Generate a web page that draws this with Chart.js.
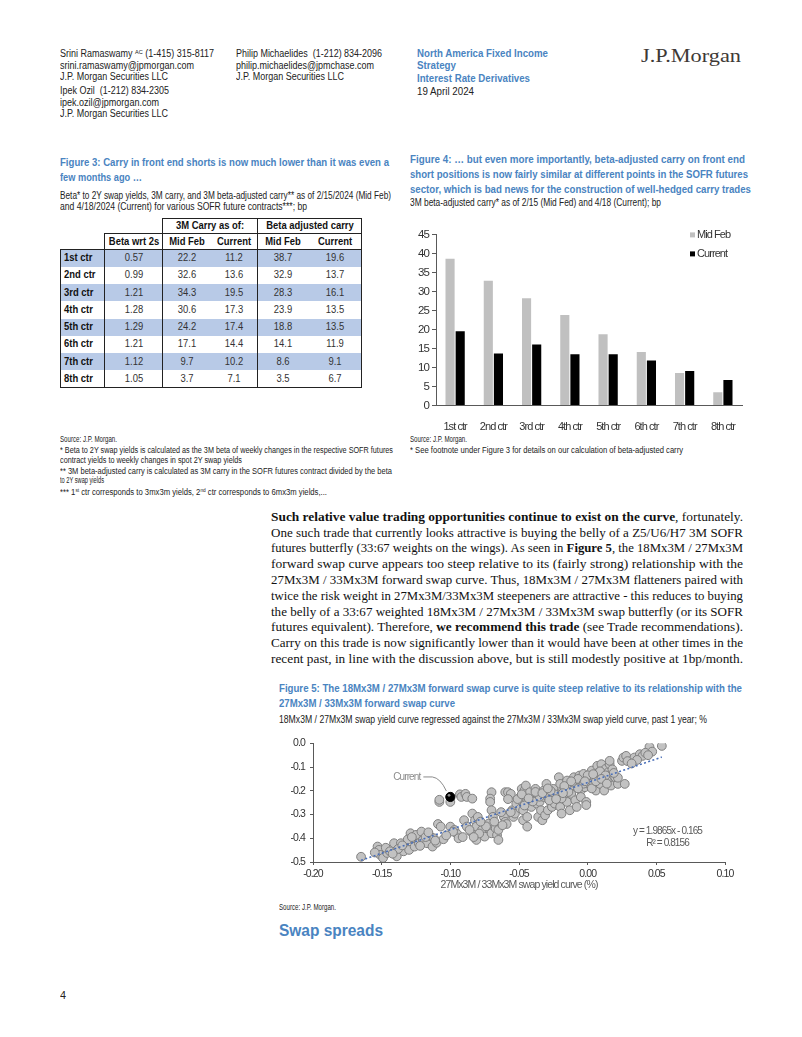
<!DOCTYPE html>
<html>
<head>
<meta charset="utf-8">
<title>Interest Rate Derivatives - page 4</title>
<script src="https://cdn.jsdelivr.net/npm/chart.js@4.4.1/dist/chart.umd.min.js"></script>
<style>
  html, body { margin: 0; padding: 0; background: #fff; }
  #page { position: relative; width: 802px; height: 1037px; overflow: hidden;
          font-family: "Liberation Sans", Arial, sans-serif; color: #222; }
  .t { position: absolute; white-space: nowrap; transform-origin: 0 50%; }
  .t sup { font-size: 0.62em; position: relative; top: -0.45em; vertical-align: baseline; line-height: 0; }
  .blue { color: #4a84c1; font-weight: bold; }
  .serif { font-family: "Liberation Serif", "Times New Roman", serif; color: #111; }
  .logo { color: #3e3935; }
  .box { position: absolute; }
  .box canvas { display: block; }
  #tbl { position: absolute; left: 60px; top: 218px; border-collapse: collapse; table-layout: fixed; }
  #tbl td, #tbl th { position: relative; padding: 0; white-space: nowrap; }
  #tbl th { font-weight: bold; color: #111; }
  #tbl td { color: #333; }
  #tbl td.lbl { font-weight: bold; color: #111; }
  #tbl .c { position: absolute; left: 50%; top: 50%; line-height: 1; white-space: nowrap;
            transform: translate(-50%, -50%) scaleX(var(--sx, 1)); }
  #tbl .lbl .c { left: 3px; transform-origin: 0 50%; transform: translate(0, -50%) scaleX(var(--sx, 1)); }
</style>
</head>
<body>
<div id="page">
  <table id="tbl"></table>
  <div class="box" style="left:405px;top:225px;"><canvas id="fig4" width="345" height="205"></canvas></div>
  <div class="box" style="left:280px;top:732px;"><canvas id="fig5" width="470" height="162"></canvas></div>
</div>
<script>
// ========================================
// DATA
// ========================================
const contracts = ['1st ctr', '2nd ctr', '3rd ctr', '4th ctr', '5th ctr', '6th ctr', '7th ctr', '8th ctr'];
const betaWrt2s = [0.57, 0.99, 1.21, 1.28, 1.29, 1.21, 1.12, 1.05];
const carryMidFeb = [22.2, 32.6, 34.3, 30.6, 24.2, 17.1, 9.7, 3.7];
const carryCurrent = [11.2, 13.6, 19.5, 17.3, 17.4, 14.4, 10.2, 7.1];
const betaAdjMidFeb = [38.7, 32.9, 28.3, 23.9, 18.8, 14.1, 8.6, 3.5];
const betaAdjCurrent = [19.6, 13.7, 16.1, 13.5, 13.5, 11.9, 9.1, 6.7];
const fig4YTicks = [0, 5, 10, 15, 20, 25, 30, 35, 40, 45];

// Figure 5: 27Mx3M/33Mx3M curve (x) vs 18Mx3M/27Mx3M curve (y), %
const curveX = [
  -0.165, -0.153, -0.152, -0.151, -0.149, -0.146, -0.147, -0.139, -0.141, -0.136,
  -0.133, -0.134, -0.130, -0.129, -0.127, -0.126, -0.125, -0.123, -0.121, -0.120,
  -0.117, -0.115, -0.113, -0.112, -0.110, -0.109, -0.107, -0.105, -0.108, -0.108,
  -0.100, -0.100, -0.097, -0.095, -0.093, -0.092, -0.089, -0.088, -0.084, -0.094,
  -0.090, -0.088, -0.085, -0.084, -0.082, -0.081, -0.081, -0.080, -0.077, -0.075,
  -0.072, -0.071, -0.070, -0.070, -0.071, -0.071, -0.070, -0.069, -0.067, -0.066,
  -0.065, -0.065, -0.061, -0.060, -0.059, -0.060, -0.058, -0.056, -0.055, -0.054,
  -0.053, -0.052, -0.049, -0.049, -0.048, -0.047, -0.047, -0.046, -0.045, -0.044,
  -0.044, -0.044, -0.043, -0.042, -0.042, -0.041, -0.039, -0.038, -0.037, -0.037,
  -0.036, -0.035, -0.034, -0.033, -0.032, -0.032, -0.031, -0.030, -0.029, -0.029,
  -0.027, -0.026, -0.025, -0.024, -0.022, -0.021, -0.020, -0.020, -0.019, -0.018,
  -0.016, -0.015, -0.015, -0.013, -0.013, -0.012, -0.010, -0.009, -0.008, -0.008,
  -0.006, -0.005, -0.005, -0.004, -0.003, -0.002, -0.001, -0.001, 0.001, 0.002,
  0.003, 0.004, 0.005, 0.006, 0.007, 0.008, 0.009, 0.010, 0.011, 0.012,
  0.013, 0.014, 0.015, 0.016, 0.016, 0.017, 0.020, 0.022, 0.025, 0.026,
  0.027, 0.028, 0.034, 0.038, 0.040, 0.045, 0.047, 0.054, -0.011, -0.007,
  -0.003, 0.000, 0.003, -0.014, -0.019, -0.024, -0.028, -0.035, -0.040, -0.046,
  -0.051, -0.056, -0.062, -0.068, -0.074, -0.079, -0.086, -0.091, -0.098, -0.103,
  -0.118, -0.122, -0.131, -0.138, -0.144, -0.155, 0.009, 0.013, 0.018, 0.006,
  -0.017, -0.027, 0.029, 0.036, 0.042, 0.022, -0.048, -0.043, -0.038, -0.033,
  -0.029, -0.023, -0.018, -0.012, -0.007, -0.002, 0.004, 0.010, 0.014, 0.019,
  -0.058, -0.063, -0.078, -0.083, -0.111, -0.116, -0.128, -0.135, -0.142, 0.032,
  0.044
];
const curveY = [
  -0.478, -0.435, -0.449, -0.470, -0.483, -0.462, -0.440, -0.476, -0.421, -0.421,
  -0.435, -0.455, -0.449, -0.379, -0.407, -0.435, -0.386, -0.421, -0.372, -0.407,
  -0.421, -0.390, -0.435, -0.400, -0.419, -0.340, -0.351, -0.404, -0.247, -0.238,
  -0.247, -0.351, -0.365, -0.382, -0.215, -0.226, -0.213, -0.226, -0.233, -0.400,
  -0.324, -0.351, -0.372, -0.296, -0.324, -0.351, -0.407, -0.310, -0.365, -0.393,
  -0.338, -0.365, -0.379, -0.206, -0.233, -0.247, -0.282, -0.310, -0.358, -0.386,
  -0.365, -0.407, -0.310, -0.331, -0.340, -0.206, -0.206, -0.213, -0.282, -0.310,
  -0.296, -0.254, -0.226, -0.275, -0.192, -0.282, -0.324, -0.199, -0.178, -0.240,
  -0.351, -0.310, -0.220, -0.261, -0.206, -0.268, -0.233, -0.192, -0.254, -0.213,
  -0.310, -0.247, -0.282, -0.324, -0.226, -0.199, -0.303, -0.171, -0.282, -0.226,
  -0.247, -0.268, -0.192, -0.254, -0.220, -0.143, -0.171, -0.268, -0.296, -0.199,
  -0.226, -0.157, -0.247, -0.185, -0.282, -0.213, -0.143, -0.240, -0.171, -0.268,
  -0.136, -0.199, -0.226, -0.157, -0.129, -0.185, -0.247, -0.260, -0.150, -0.178,
  -0.115, -0.164, -0.143, -0.199, -0.095, -0.122, -0.171, -0.088, -0.143, -0.199,
  -0.108, -0.157, -0.122, -0.088, -0.074, -0.178, -0.143, -0.171, -0.074, -0.060,
  -0.171, -0.053, -0.060, -0.046, -0.053, -0.015, -0.035, -0.011, -0.165, -0.150,
  -0.170, -0.135, -0.190, -0.205, -0.232, -0.215, -0.240, -0.225, -0.245, -0.262,
  -0.235, -0.290, -0.345, -0.330, -0.350, -0.380, -0.365, -0.395, -0.372, -0.388,
  -0.395, -0.432, -0.405, -0.445, -0.455, -0.460, -0.118, -0.135, -0.110, -0.160,
  -0.180, -0.200, -0.075, -0.070, -0.040, -0.145, -0.215, -0.232, -0.205, -0.210,
  -0.190, -0.235, -0.210, -0.160, -0.190, -0.160, -0.130, -0.150, -0.170, -0.125,
  -0.235, -0.290, -0.330, -0.395, -0.410, -0.375, -0.395, -0.430, -0.465, -0.085,
  -0.050
];
const currentX = [-0.100];
const currentY = [-0.226];
const trendX = [-0.165, 0.054];
const trendY = [-0.493, -0.058];
const trendLabel = 'y = 1.9865x - 0.165';
const r2Label = 'R\u00b2 = 0.8156';
const fig5XTicks = [-0.20, -0.15, -0.10, -0.05, 0.00, 0.05, 0.10];
const fig5YTicks = [-0.5, -0.4, -0.3, -0.2, -0.1, 0.0];

// ========================================
// FONTS
// ========================================
function hasFont(name) {
  const c = document.createElement('canvas').getContext('2d');
  c.font = '40px monospace';
  const a = c.measureText('abcdefghijMWil').width;
  c.font = '40px "' + name + '", monospace';
  return c.measureText('abcdefghijMWil').width !== a;
}
const SANS = '"Liberation Sans", Arial, sans-serif';
const NARROW = hasFont('Liberation Sans Narrow');
const FIG = NARROW ? '"Liberation Sans Narrow", ' + SANS : SANS;
const SX = NARROW ? 1 : 0.82;            // horizontal squeeze when no narrow face
const spacing = s => NARROW ? '0px' : (-0.085 * s).toFixed(2) + 'px';

// ========================================
// PAGE TEXT  [x, centre y, width, size, class, html, mode]
// ========================================
const P0 = 516.7, PL = 15.8;
const texts = [
  [60, 54, 154, 10, '', 'Srini Ramaswamy <sup>AC</sup> (1-415) 315-8117'],
  [60, 65.7, 134, 10, '', 'srini.ramaswamy@jpmorgan.com'],
  [60, 76.7, 108, 10, '', 'J.P. Morgan Securities LLC'],
  [60, 91, 109, 10, '', 'Ipek Ozil&nbsp; (1-212) 834-2305'],
  [60, 102.7, 99, 10, '', 'ipek.ozil@jpmorgan.com'],
  [60, 114, 108, 10, '', 'J.P. Morgan Securities LLC'],
  [235.7, 54, 146, 10, '', 'Philip Michaelides&nbsp; (1-212) 834-2096'],
  [235.7, 65.7, 138, 10, '', 'philip.michaelides@jpmchase.com'],
  [235.7, 76.7, 108, 10, '', 'J.P. Morgan Securities LLC'],
  [416.7, 54, 131, 10, 'blue', 'North America Fixed Income'],
  [416.7, 65.5, 39, 10, 'blue', 'Strategy'],
  [416.7, 79.4, 113, 10, 'blue', 'Interest Rate Derivatives'],
  [416.7, 91.5, 57, 10, '', '19 April 2024'],
  [641, 55, 100, 19.5, 'serif logo', 'J.P.Morgan'],

  [60, 161.7, 329, 11.5, 'blue fig', 'Figure 3: Carry in front end shorts is now much lower than it was even a'],
  [60, 176.7, 82, 11.5, 'blue fig', 'few months ago …'],
  [60, 195, 331, 10.5, 'fig', 'Beta* to 2Y swap yields, 3M carry, and 3M beta-adjusted carry** as of 2/15/2024 (Mid Feb)'],
  [60, 206, 247, 10.5, 'fig', 'and 4/18/2024 (Current) for various SOFR future contracts***; bp'],

  [410, 159.3, 335, 11.5, 'blue fig', 'Figure 4: … but even more importantly, beta-adjusted carry on front end'],
  [410, 174.3, 338, 11.5, 'blue fig', 'short positions is now fairly similar at different points in the SOFR futures'],
  [410, 189, 341, 11.5, 'blue fig', 'sector, which is bad news for the construction of well-hedged carry trades'],
  [410, 202.3, 251, 10.5, 'fig', '3M beta-adjusted carry* as of 2/15 (Mid Fed) and 4/18 (Current); bp'],

  [60, 439, 57, 8.5, 'fig', 'Source: J.P. Morgan.'],
  [60, 450, 333, 8.5, 'fig', '* Beta to 2Y swap yields is calculated as the 3M beta of weekly changes in the respective SOFR futures'],
  [60, 459.7, 182, 8.5, 'fig', 'contract yields to weekly changes in spot 2Y swap yields'],
  [60, 471, 332, 8.5, 'fig', '** 3M beta-adjusted carry is calculated as 3M carry in the SOFR futures contract divided by the beta'],
  [60, 480.3, 44, 8.5, 'fig', 'to 2Y swap yields'],
  [60, 491.7, 267, 8.5, 'fig', '*** 1<sup>st</sup> ctr corresponds to 3mx3m yields, 2<sup>nd</sup> ctr corresponds to 6mx3m yields,...'],
  [410, 439, 57, 8.5, 'fig', 'Source: J.P. Morgan.'],
  [410, 450, 273, 8.5, 'fig', '* See footnote under Figure 3 for details on our calculation of beta-adjusted carry'],

  [271, P0, 472, 13.5, 'serif', '<b>Such relative value trading opportunities continue to exist on the curve</b>, fortunately.', 'just'],
  [271, P0 + PL, 472, 13.5, 'serif', 'One such trade that currently looks attractive is buying the belly of a Z5/U6/H7 3M SOFR', 'just'],
  [271, P0 + PL * 2, 472, 13.5, 'serif', 'futures butterfly (33:67 weights on the wings). As seen in <b>Figure 5</b>, the 18Mx3M / 27Mx3M', 'just'],
  [271, P0 + PL * 3, 472, 13.5, 'serif', 'forward swap curve appears too steep relative to its (fairly strong) relationship with the', 'just'],
  [271, P0 + PL * 4, 472, 13.5, 'serif', '27Mx3M / 33Mx3M forward swap curve. Thus, 18Mx3M / 27Mx3M flatteners paired with', 'just'],
  [271, P0 + PL * 5, 472, 13.5, 'serif', 'twice the risk weight in 27Mx3M/33Mx3M steepeners are attractive - this reduces to buying', 'just'],
  [271, P0 + PL * 6, 472, 13.5, 'serif', 'the belly of a 33:67 weighted 18Mx3M / 27Mx3M / 33Mx3M swap butterfly (or its SOFR', 'just'],
  [271, P0 + PL * 7, 472, 13.5, 'serif', 'futures equivalent). Therefore, <b>we recommend this trade</b> (see Trade recommendations).', 'just'],
  [271, P0 + PL * 8, 472, 13.5, 'serif', 'Carry on this trade is now significantly lower than it would have been at other times in the', 'just'],
  [271, P0 + PL * 9, 472, 13.5, 'serif', 'recent past, in line with the discussion above, but is still modestly positive at 1bp/month.', 'just'],

  [279, 688.3, 463, 11.5, 'blue fig', 'Figure 5: The 18Mx3M / 27Mx3M forward swap curve is quite steep relative to its relationship with the'],
  [279, 702.7, 176, 11.5, 'blue fig', '27Mx3M / 33Mx3M forward swap curve'],
  [279, 719.3, 428, 10.5, 'fig', '18Mx3M / 27Mx3M swap yield curve regressed against the 27Mx3M / 33Mx3M swap yield curve, past 1 year; %'],
  [279, 906.7, 57, 8.5, 'fig', 'Source: J.P. Morgan.'],
  [279, 930.7, 104, 16, 'blue', 'Swap spreads'],
  [60, 996, 6, 10, '', '4']
];

const page = document.getElementById('page');
texts.forEach(([x, y, w, size, cls, html, mode]) => {
  const el = document.createElement('div');
  const lh = Math.round(size * 1.2);
  el.className = 't ' + cls;
  if (cls.includes('fig')) el.style.fontFamily = FIG;
  el.style.left = x + 'px';
  el.style.top = (y - lh / 2) + 'px';
  el.style.fontSize = size + 'px';
  el.style.lineHeight = lh + 'px';
  el.dataset.w = w;
  if (mode) el.dataset.mode = mode;
  el.innerHTML = html;
  page.appendChild(el);
});

function fitText() {
  document.querySelectorAll('.t[data-w]').forEach(el => {
    const w = +el.dataset.w;
    const nat = el.getBoundingClientRect().width;
    if (!nat) return;
    if (el.dataset.mode === 'just' && nat < w) {
      const gaps = (el.textContent.match(/ /g) || []).length;
      if (gaps) el.style.wordSpacing = ((w - nat) / gaps) + 'px';
    } else {
      el.style.transform = 'scaleX(' + (w / nat).toFixed(4) + ')';
    }
  });
}

// ========================================
// FIGURE 3 TABLE
// ========================================
function buildTable() {
  const tbl = document.getElementById('tbl');
  tbl.style.setProperty('--sx', SX);
  tbl.style.fontFamily = FIG;
  tbl.style.fontSize = '11.5px';
  const B = '1.5px solid #222';
  const widths = [44, 58, 48, 47, 51, 53];
  const bodyH = 17.25;
  const span = v => '<span class="c">' + v + '</span>';
  let html = '<colgroup>' + widths.map(w => '<col style="width:' + w + 'px">').join('') + '</colgroup>';
  html += '<tr style="height:15px">' +
    '<td style="border:none"></td><td style="border:none"></td>' +
    '<th colspan="2" style="border:' + B + '">' + span('3M Carry as of:') + '</th>' +
    '<th colspan="2" style="border:' + B + '">' + span('Beta adjusted carry') + '</th></tr>';
  html += '<tr style="height:16px">' +
    '<td style="border:none;border-bottom:' + B + '"></td>' +
    '<th style="border:' + B + '">' + span('Beta wrt 2s') + '</th>' +
    '<th style="border-left:' + B + ';border-top:' + B + ';border-bottom:' + B + '">' + span('Mid Feb') + '</th>' +
    '<th style="border-top:' + B + ';border-bottom:' + B + '">' + span('Current') + '</th>' +
    '<th style="border-left:' + B + ';border-top:' + B + ';border-bottom:' + B + '">' + span('Mid Feb') + '</th>' +
    '<th style="border-top:' + B + ';border-bottom:' + B + ';border-right:' + B + '">' + span('Current') + '</th></tr>';
  contracts.forEach((c, i) => {
    const bg = i % 2 === 0 ? 'background:#b8cae7;' : '';
    const bot = i === contracts.length - 1 ? 'border-bottom:' + B + ';' : '';
    const cells = [
      ['lbl', c, 'border-left:' + B + ';border-right:' + B + ';'],
      ['', betaWrt2s[i].toFixed(2), 'border-right:' + B + ';'],
      ['', carryMidFeb[i].toFixed(1), ''],
      ['', carryCurrent[i].toFixed(1), 'border-right:' + B + ';'],
      ['', betaAdjMidFeb[i].toFixed(1), ''],
      ['', betaAdjCurrent[i].toFixed(1), 'border-right:' + B + ';']
    ];
    html += '<tr style="height:' + bodyH + 'px;' + bg + '">' + cells.map(([cl, v, b]) =>
      '<td class="' + cl + '" style="' + b + bot + '">' + span(v) + '</td>').join('') + '</tr>';
  });
  tbl.innerHTML = html;
}

// ========================================
// CHART HELPERS
// ========================================
// squeeze canvas text when the narrow face is missing
function tightText(px) {
  return {
    id: 'tightText',
    beforeUpdate(chart) { chart.ctx.letterSpacing = spacing(px); },
    beforeDraw(chart) { chart.ctx.letterSpacing = spacing(px); }
  };
}

const fig4Legend = {
  id: 'fig4Legend',
  afterDraw(chart) {
    const { ctx, chartArea } = chart;
    ctx.save();
    ctx.font = '11px ' + FIG;
    ctx.textBaseline = 'middle';
    chart.data.datasets.forEach((ds, i) => {
      const x = chartArea.right - 52;
      const y = chartArea.top + i * 19;
      ctx.fillStyle = ds.backgroundColor;
      ctx.fillRect(x, y - 2.5, 5, 5);
      ctx.fillStyle = '#333';
      ctx.fillText(ds.label, x + 7, y);
    });
    ctx.restore();
  }
};

// ========================================
// FIGURE 4 BAR CHART
// ========================================
function initFig4() {
  new Chart(document.getElementById('fig4'), {
    type: 'bar',
    data: {
      labels: contracts,
      datasets: [
        { label: 'Mid Feb', data: betaAdjMidFeb, backgroundColor: '#c0c0c0',
          categoryPercentage: 0.53, barPercentage: 0.9 },
        { label: 'Current', data: betaAdjCurrent, backgroundColor: '#000000',
          categoryPercentage: 0.53, barPercentage: 0.9 }
      ]
    },
    options: {
      responsive: false,
      animation: false,
      layout: { padding: { top: 9, right: 8, left: 0, bottom: 0 } },
      plugins: { legend: { display: false }, tooltip: { enabled: false } },
      scales: {
        x: {
          grid: { display: false },
          border: { display: true, color: '#595959', width: 1 },
          ticks: { color: '#333', padding: 7, autoSkip: false, maxRotation: 0,
                   font: { family: FIG, size: 11 } },
          afterFit(s) { s.height = 24.5; }
        },
        y: {
          min: 0, max: 45,
          grid: { drawOnChartArea: false, drawTicks: true, tickLength: 4, color: '#595959' },
          border: { color: '#595959', width: 1 },
          ticks: { color: '#333', padding: 3, font: { family: FIG, size: 11.5 } },
          afterBuildTicks(s) { s.ticks = fig4YTicks.map(v => ({ value: v })); },
          afterFit(s) { s.width = 31; }
        }
      }
    },
    plugins: [tightText(11), fig4Legend]
  });
}

// ========================================
// FIGURE 5 SCATTER
// ========================================
const fig5Notes = {
  id: 'fig5Notes',
  afterDraw(chart) {
    const { ctx, chartArea, scales } = chart;
    const px = scales.x.getPixelForValue(currentX[0]);
    const py = scales.y.getPixelForValue(currentY[0]);
    ctx.save();
    // highlight on the "current" marker
    ctx.fillStyle = 'rgba(255,255,255,0.55)';
    ctx.beginPath();
    ctx.arc(px - 1.3, py - 1.6, 1.4, 0, Math.PI * 2);
    ctx.fill();
    // leader line + label
    ctx.strokeStyle = '#8c8c8c';
    ctx.lineWidth = 1;
    ctx.beginPath();
    ctx.moveTo(px - 27, py - 20);
    ctx.lineTo(px - 18, py - 20);
    ctx.quadraticCurveTo(px - 10, py - 19, px - 4, py - 6);
    ctx.stroke();
    ctx.font = '10px ' + FIG;
    ctx.fillStyle = '#8c8c8c';
    ctx.textAlign = 'right';
    ctx.textBaseline = 'middle';
    ctx.fillText('Current', px - 30, py - 20);
    // regression text
    ctx.fillStyle = '#595959';
    ctx.textAlign = 'center';
    const ex = chartArea.right - 57.5;
    ctx.fillText(trendLabel, ex, chartArea.top + 88);
    ctx.fillText(r2Label, ex, chartArea.top + 100);
    ctx.restore();
  }
};

function initFig5() {
  const pts = curveX.map((x, i) => ({ x: x, y: curveY[i] }));
  const trend = trendX.map((x, i) => ({ x: x, y: trendY[i] }));
  const cur = currentX.map((x, i) => ({ x: x, y: currentY[i] }));
  new Chart(document.getElementById('fig5'), {
    type: 'scatter',
    data: {
      datasets: [
        { label: 'Trend', data: trend, showLine: true, pointRadius: 0,
          borderColor: '#4a6fb8', borderWidth: 1.6, borderDash: [2, 2.4], order: 0 },
        { label: 'History', data: pts, pointRadius: 4.4, backgroundColor: '#c2c2c2',
          borderColor: '#7f7f7f', borderWidth: 1, order: 2 },
        { label: 'Current', data: cur, pointRadius: 4.6, backgroundColor: '#000',
          borderColor: '#000', borderWidth: 1, order: -1 }
      ]
    },
    options: {
      responsive: false,
      animation: false,
      layout: { padding: { top: 10, right: 25, left: 0, bottom: 0 } },
      plugins: { legend: { display: false }, tooltip: { enabled: false } },
      scales: {
        x: {
          type: 'linear', min: -0.2, max: 0.1,
          grid: { drawOnChartArea: false, drawTicks: true, tickLength: 3, color: '#595959' },
          border: { color: '#595959', width: 1 },
          ticks: { color: '#333', padding: 3, autoSkip: false, maxRotation: 0,
                   font: { family: FIG, size: 10.5 }, callback: v => v.toFixed(2) },
          afterBuildTicks(s) { s.ticks = fig5XTicks.map(v => ({ value: v })); },
          title: { display: true, text: '27Mx3M / 33Mx3M swap yield curve (%)', color: '#595959',
                   font: { family: FIG, size: 10.5 }, padding: { top: 0, bottom: 3 } },
          afterFit(s) { s.height = 32; }
        },
        y: {
          type: 'linear', min: -0.5, max: 0,
          grid: { drawOnChartArea: false, drawTicks: true, tickLength: 3, color: '#595959' },
          border: { color: '#595959', width: 1 },
          ticks: { color: '#333', padding: 5, font: { family: FIG, size: 10.5 },
                   callback: v => v.toFixed(1) },
          afterBuildTicks(s) { s.ticks = fig5YTicks.map(v => ({ value: v })); },
          afterFit(s) { s.width = 33; }
        }
      }
    },
    plugins: [tightText(10.5), fig5Notes]
  });
}

// ========================================
// INITIALIZE
// ========================================
buildTable();
document.fonts.ready.then(() => {
  fitText();
  initFig4();
  initFig5();
});
</script>
</body>
</html>
